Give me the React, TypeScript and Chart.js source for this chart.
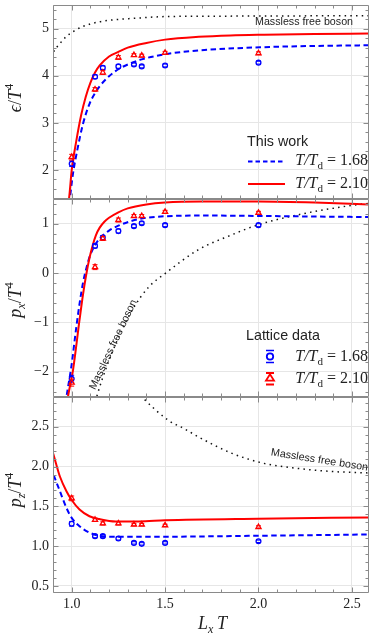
import React, { useEffect, useRef } from 'react';
import { Chart, registerables } from 'chart.js';

Chart.register(...registerables);

// ---------------- data ----------------
const LXT = [1.0, 1.125, 1.1667, 1.25, 1.3333, 1.375, 1.5, 2.0];

const EPS_168 = [2.13, 3.98, 4.17, 4.2, 4.24, 4.2, 4.22, 4.28];
const EPS_168_ERR = [0.06, 0.04, 0.04, 0.04, 0.03, 0.03, 0.03, 0.03];
const EPS_210 = [2.27, 3.71, 4.07, 4.39, 4.44, 4.43, 4.49, 4.48];
const EPS_210_ERR = [0.06, 0.04, 0.04, 0.04, 0.03, 0.03, 0.03, 0.03];

const PX_168 = [-2.14, 0.55, 0.72, 0.85, 0.95, 1.01, 0.97, 0.97];
const PX_168_ERR = [0.07, 0.04, 0.04, 0.04, 0.03, 0.03, 0.03, 0.03];
const PX_210 = [-2.22, 0.12, 0.7, 1.075, 1.156, 1.156, 1.24, 1.22];
const PX_210_ERR = [0.07, 0.05, 0.04, 0.04, 0.03, 0.03, 0.03, 0.03];

const PZ_168 = [1.28, 1.125, 1.125, 1.096, 1.04, 1.028, 1.04, 1.06];
const PZ_168_ERR = [0.03, 0.02, 0.02, 0.02, 0.015, 0.015, 0.015, 0.015];
const PZ_210 = [1.6, 1.33, 1.285, 1.285, 1.27, 1.27, 1.26, 1.24];
const PZ_210_ERR = [0.03, 0.02, 0.02, 0.02, 0.015, 0.015, 0.015, 0.015];

// model curves ("This work") and free boson limits
const EPS_RED_X = [0.975, 0.986, 1.0, 1.025, 1.05, 1.075, 1.1, 1.125, 1.15, 1.2, 1.25, 1.3, 1.4, 1.5, 1.68, 1.85, 2.03, 2.3, 2.59];
const EPS_RED_Y = [1.25, 1.4, 1.99, 2.62, 3.15, 3.55, 3.85, 4.07, 4.22, 4.41, 4.51, 4.6, 4.7, 4.77, 4.83, 4.86, 4.875, 4.89, 4.9];
const EPS_BLUE_X = [0.985, 0.99, 1.007, 1.033, 1.06, 1.095, 1.125, 1.15, 1.2, 1.254, 1.324, 1.375, 1.5, 1.68, 2.03, 2.3, 2.59];
const EPS_BLUE_Y = [1.28, 1.4, 1.92, 2.48, 2.97, 3.4, 3.63, 3.78, 3.99, 4.15, 4.28, 4.35, 4.46, 4.54, 4.61, 4.635, 4.65];
const EPS_FREE_X = [0.89, 0.9, 0.94, 0.972, 1.02, 1.06, 1.148, 1.25, 1.324, 1.5, 1.88, 2.59];
const EPS_FREE_Y = [4.4, 4.49, 4.7, 4.84, 4.97, 5.05, 5.15, 5.2, 5.22, 5.26, 5.27, 5.28];

const PX_RED_X = [0.975, 0.98, 1.007, 1.042, 1.06, 1.077, 1.095, 1.113, 1.13, 1.15, 1.175, 1.2, 1.25, 1.3, 1.4, 1.5, 1.7, 2.0, 2.3, 2.59];
const PX_RED_Y = [-2.65, -2.51, -1.97, -0.95, -0.45, -0.05, 0.3, 0.57, 0.77, 0.92, 1.04, 1.12, 1.23, 1.31, 1.39, 1.43, 1.45, 1.45, 1.43, 1.39];
const PX_BLUE_X = [0.967, 0.972, 0.998, 1.025, 1.045, 1.06, 1.08, 1.1, 1.125, 1.15, 1.2, 1.25, 1.324, 1.4, 1.5, 1.7, 2.03, 2.3, 2.59];
const PX_BLUE_Y = [-2.65, -2.51, -1.9, -1.09, -0.55, -0.21, 0.12, 0.37, 0.57, 0.7, 0.86, 0.96, 1.06, 1.12, 1.15, 1.165, 1.156, 1.145, 1.135];
const PX_FREE_X = [1.12, 1.139, 1.236, 1.324, 1.413, 1.5, 1.677, 1.854, 2.0, 2.2, 2.38, 2.54, 2.59];
const PX_FREE_Y = [-2.72, -2.44, -1.43, -0.75, -0.28, -0.01, 0.47, 0.77, 0.98, 1.17, 1.3, 1.39, 1.41];

const PZ_RED_X = [0.89, 0.9, 0.937, 0.972, 1.0, 1.042, 1.095, 1.148, 1.236, 1.36, 1.5, 2.0, 2.59];
const PZ_RED_Y = [2.24, 2.17, 1.875, 1.69, 1.58, 1.46, 1.375, 1.34, 1.31, 1.31, 1.325, 1.345, 1.36];
const PZ_BLUE_X = [0.89, 0.9, 0.937, 0.972, 1.0, 1.042, 1.095, 1.148, 1.236, 1.413, 2.0, 2.59];
const PZ_BLUE_Y = [2.0, 1.92, 1.69, 1.48, 1.355, 1.25, 1.17, 1.13, 1.117, 1.117, 1.13, 1.146];
const PZ_FREE_X = [1.35, 1.377, 1.519, 1.6, 1.677, 1.854, 2.03, 2.2, 2.38, 2.59];
const PZ_FREE_Y = [2.95, 2.875, 2.58, 2.48, 2.375, 2.17, 2.04, 1.98, 1.94, 1.92];

// axes
const X_MIN = 0.9;
const X_MAX = 2.59;
const X_MAJOR = [1.0, 1.5, 2.0, 2.5];
const X_LABELS = ['1.0', '1.5', '2.0', '2.5'];

const Y1_MAJOR = [2, 3, 4, 5];
const Y1_LABELS = ['2', '3', '4', '5'];
const Y2_MAJOR = [-2, -1, 0, 1];
const Y2_LABELS = ['\u22122', '\u22121', '0', '1'];
const Y3_MAJOR = [0.5, 1.0, 1.5, 2.0, 2.5];
const Y3_LABELS = ['0.5', '1.0', '1.5', '2.0', '2.5'];

const LEGEND_VALUES = ['1.68', '2.10'];

// ---------------- styles ----------------
const W = 374;
const H = 639;
const BLUE = 'rgb(0,0,255)';
const RED = 'rgb(255,0,0)';
const FRAME = '#8a8a8a';
const GRID = '#e6e6e6';
const TXT = '#222';
const SERIF = "'Liberation Serif', 'DejaVu Serif', serif";
const SANS = "'Liberation Sans', Arial, sans-serif";

type Run = { t: string; f: string; dy?: number };

function drawRuns(ctx: CanvasRenderingContext2D, runs: Run[], x: number, y: number, align: 'left' | 'center' | 'right', angle = 0) {
  ctx.save();
  let total = 0;
  const widths = runs.map((r) => {
    ctx.font = r.f;
    const w = ctx.measureText(r.t).width;
    total += w;
    return w;
  });
  ctx.translate(x, y);
  if (angle) ctx.rotate(angle);
  let cx = align === 'left' ? 0 : align === 'center' ? -total / 2 : -total;
  ctx.textBaseline = 'alphabetic';
  ctx.textAlign = 'left';
  ctx.fillStyle = TXT;
  runs.forEach((r, i) => {
    ctx.font = r.f;
    ctx.fillText(r.t, cx, r.dy || 0);
    cx += widths[i];
  });
  ctx.restore();
}

const zip = (xs: number[], ys: number[]) => xs.map((x, i) => ({ x, y: ys[i] }));

function tdRuns(val: string): Run[] {
  return [
    { t: 'T/T', f: `italic 16px ${SERIF}` },
    { t: 'd', f: `11px ${SERIF}`, dy: 3.5 },
    { t: ' = ' + val, f: `16px ${SERIF}` },
  ];
}

function markerCircle(ctx: CanvasRenderingContext2D, x: number, y: number, r: number, lw: number) {
  ctx.beginPath();
  ctx.arc(x, y, r, 0, Math.PI * 2);
  ctx.lineWidth = lw;
  ctx.stroke();
}
function markerTriangle(ctx: CanvasRenderingContext2D, x: number, y: number, r: number, lw: number) {
  const h = r * 1.5;
  ctx.beginPath();
  ctx.moveTo(x, y - r);
  ctx.lineTo(x + r * 0.95, y - r + h);
  ctx.lineTo(x - r * 0.95, y - r + h);
  ctx.closePath();
  ctx.lineWidth = lw;
  ctx.stroke();
}

type PanelSpec = {
  top: number;
  bottom: number;
  yMin: number;
  yMax: number;
  yMajor: number[];
  yLabels: string[];
  yMinor: number;
  showX: boolean;
  title: Run[];
  titleY: number;
  blue: number[];
  blueErr: number[];
  red: number[];
  redErr: number[];
  redLine: { x: number; y: number }[];
  blueLine: { x: number; y: number }[];
  freeLine: { x: number; y: number }[];
  extra: (ctx: CanvasRenderingContext2D) => void;
};

const TITLE_F = `italic 18px ${SERIF}`;
const SUP_F = `12px ${SERIF}`;
const SUB_F = `italic 12px ${SERIF}`;

const PANELS: PanelSpec[] = [
  {
    top: 2,
    bottom: 199,
    yMin: 1.38,
    yMax: 5.5,
    yMajor: Y1_MAJOR,
    yLabels: Y1_LABELS,
    yMinor: 0.2,
    showX: false,
    title: [
      { t: '\u03f5', f: TITLE_F },
      { t: '/', f: `18px ${SERIF}` },
      { t: 'T', f: TITLE_F },
      { t: '4', f: SUP_F, dy: -8 },
    ],
    titleY: 98,
    blue: EPS_168,
    blueErr: EPS_168_ERR,
    red: EPS_210,
    redErr: EPS_210_ERR,
    redLine: zip(EPS_RED_X, EPS_RED_Y),
    blueLine: zip(EPS_BLUE_X, EPS_BLUE_Y),
    freeLine: zip(EPS_FREE_X, EPS_FREE_Y),
    extra: (ctx) => {
      drawRuns(ctx, [{ t: 'Massless free boson', f: `10.7px ${SANS}` }], 255, 24.5, 'left');
      drawRuns(ctx, [{ t: 'This work', f: `14.3px ${SANS}` }], 247, 146, 'left');
      ctx.save();
      ctx.strokeStyle = BLUE;
      ctx.lineWidth = 2;
      ctx.setLineDash([4.5, 3]);
      ctx.beginPath();
      ctx.moveTo(248, 161.5);
      ctx.lineTo(285, 161.5);
      ctx.stroke();
      ctx.setLineDash([]);
      ctx.strokeStyle = RED;
      ctx.beginPath();
      ctx.moveTo(248, 184);
      ctx.lineTo(285, 184);
      ctx.stroke();
      ctx.restore();
      drawRuns(ctx, tdRuns(LEGEND_VALUES[0]), 368, 165, 'right');
      drawRuns(ctx, tdRuns(LEGEND_VALUES[1]), 368, 188, 'right');
    },
  },
  {
    top: 199,
    bottom: 397,
    yMin: -2.51,
    yMax: 1.5,
    yMajor: Y2_MAJOR,
    yLabels: Y2_LABELS,
    yMinor: 0.2,
    showX: false,
    title: [
      { t: 'p', f: TITLE_F },
      { t: 'x', f: SUB_F, dy: 4 },
      { t: '/', f: `18px ${SERIF}` },
      { t: 'T', f: TITLE_F },
      { t: '4', f: SUP_F, dy: -8 },
    ],
    titleY: 300,
    blue: PX_168,
    blueErr: PX_168_ERR,
    red: PX_210,
    redErr: PX_210_ERR,
    redLine: zip(PX_RED_X, PX_RED_Y),
    blueLine: zip(PX_BLUE_X, PX_BLUE_Y),
    freeLine: zip(PX_FREE_X, PX_FREE_Y),
    extra: (ctx) => {
      drawRuns(ctx, [{ t: 'Massless free boson', f: `10.7px ${SANS}` }], 116, 346, 'center', (-64.7 * Math.PI) / 180);
      drawRuns(ctx, [{ t: 'Lattice data', f: `14.3px ${SANS}` }], 246, 339.5, 'left');
      ctx.save();
      ctx.strokeStyle = BLUE;
      markerCircle(ctx, 270, 356.5, 3.2, 1.8);
      ctx.lineWidth = 1.6;
      ctx.beginPath();
      ctx.moveTo(266, 350.5); ctx.lineTo(274, 350.5);
      ctx.moveTo(266, 362.5); ctx.lineTo(274, 362.5);
      ctx.stroke();
      ctx.strokeStyle = RED;
      markerTriangle(ctx, 270, 378.5, 4.2, 1.8);
      ctx.beginPath();
      ctx.moveTo(266, 373); ctx.lineTo(274, 373);
      ctx.moveTo(266, 384.5); ctx.lineTo(274, 384.5);
      ctx.moveTo(270, 372.5); ctx.lineTo(270, 374.5);
      ctx.stroke();
      ctx.restore();
      drawRuns(ctx, tdRuns(LEGEND_VALUES[0]), 368, 361, 'right');
      drawRuns(ctx, tdRuns(LEGEND_VALUES[1]), 368, 383, 'right');
    },
  },
  {
    top: 397,
    bottom: 593,
    yMin: 0.41,
    yMax: 2.875,
    yMajor: Y3_MAJOR,
    yLabels: Y3_LABELS,
    yMinor: 0.1,
    showX: true,
    title: [
      { t: 'p', f: TITLE_F },
      { t: 'z', f: SUB_F, dy: 4 },
      { t: '/', f: `18px ${SERIF}` },
      { t: 'T', f: TITLE_F },
      { t: '4', f: SUP_F, dy: -8 },
    ],
    titleY: 490,
    blue: PZ_168,
    blueErr: PZ_168_ERR,
    red: PZ_210,
    redErr: PZ_210_ERR,
    redLine: zip(PZ_RED_X, PZ_RED_Y),
    blueLine: zip(PZ_BLUE_X, PZ_BLUE_Y),
    freeLine: zip(PZ_FREE_X, PZ_FREE_Y),
    extra: (ctx) => {
      drawRuns(ctx, [{ t: 'Massless free boson', f: `10.7px ${SANS}` }], 319, 463, 'center', (9 * Math.PI) / 180);
      drawRuns(
        ctx,
        [
          { t: 'L', f: TITLE_F },
          { t: 'x', f: SUB_F, dy: 4 },
          { t: '\u2009T', f: TITLE_F },
        ],
        212.5,
        629,
        'center'
      );
    },
  },
];

function makePlugin(p: PanelSpec) {
  return {
    id: 'panelDecor',
    afterDatasetDraw(chart: any, args: any) {
      const ds = chart.data.datasets[args.index];
      if (!ds.errors) return;
      const ctx: CanvasRenderingContext2D = chart.ctx;
      const ys = chart.scales.y;
      const ca = chart.chartArea;
      ctx.save();
      ctx.beginPath();
      ctx.rect(ca.left, ca.top, ca.right - ca.left, ca.bottom - ca.top);
      ctx.clip();
      ctx.strokeStyle = ds.borderColor;
      ctx.lineWidth = 1;
      args.meta.data.forEach((el: any, i: number) => {
        const v = ds.data[i].y;
        const e = ds.errors[i];
        const y1 = ys.getPixelForValue(v + e);
        const y2 = ys.getPixelForValue(v - e);
        const r = ds.pointRadius;
        ctx.beginPath();
        if (y1 < el.y - r) {
          ctx.moveTo(el.x, y1);
          ctx.lineTo(el.x, el.y - r);
        }
        if (y2 > el.y + r) {
          ctx.moveTo(el.x, el.y + r);
          ctx.lineTo(el.x, y2);
        }
        ctx.moveTo(el.x - 2.5, y1);
        ctx.lineTo(el.x + 2.5, y1);
        ctx.moveTo(el.x - 2.5, y2);
        ctx.lineTo(el.x + 2.5, y2);
        ctx.stroke();
      });
      ctx.restore();
    },
    afterDraw(chart: any) {
      const ctx: CanvasRenderingContext2D = chart.ctx;
      const ca = chart.chartArea;
      const xs = chart.scales.x;
      const ys = chart.scales.y;
      ctx.save();
      ctx.strokeStyle = FRAME;
      ctx.lineWidth = 1;
      const L = Math.round(ca.left) + 0.5;
      const R = Math.round(ca.right) - 0.5;
      const T = Math.round(ca.top) + 0.5;
      const B = Math.round(ca.bottom) - 0.5;
      ctx.beginPath();
      ctx.rect(L, T, R - L, B - T);
      ctx.stroke();
      // x frame ticks
      ctx.beginPath();
      for (let k = Math.ceil(X_MIN * 10 - 1e-6); k <= Math.floor(X_MAX * 10 + 1e-6); k++) {
        const px = Math.round(xs.getPixelForValue(k / 10)) + 0.5;
        const len = k % 5 === 0 ? 5 : 3;
        ctx.moveTo(px, T);
        ctx.lineTo(px, T + len);
        ctx.moveTo(px, B);
        ctx.lineTo(px, B - len);
      }
      // y frame ticks
      const s = p.yMinor;
      for (let k = Math.ceil(p.yMin / s - 1e-6); k <= Math.floor(p.yMax / s + 1e-6); k++) {
        const v = k * s;
        const py = Math.round(ys.getPixelForValue(v)) + 0.5;
        const major = p.yMajor.some((m) => Math.abs(m - v) < 1e-6);
        const len = major ? 5 : 3;
        ctx.moveTo(L, py);
        ctx.lineTo(L + len, py);
        ctx.moveTo(R, py);
        ctx.lineTo(R - len, py);
      }
      ctx.stroke();
      ctx.restore();
      drawRuns(ctx, p.title, 21, p.titleY, 'center', -Math.PI / 2);
      p.extra(ctx);
    },
  };
}

function buildConfig(p: PanelSpec): any {
  const xs = LXT;
  return {
    type: 'line',
    data: {
      datasets: [
        {
          label: 'red pts',
          data: zip(xs, p.red),
          errors: p.redErr,
          showLine: false,
          pointStyle: 'triangle',
          pointRadius: 3,
          pointBorderWidth: 1.3,
          borderColor: RED,
          pointBorderColor: RED,
          pointBackgroundColor: 'rgba(0,0,0,0)',
          clip: 0,
        },
        {
          label: 'blue pts',
          data: zip(xs, p.blue),
          errors: p.blueErr,
          showLine: false,
          pointStyle: 'circle',
          pointRadius: 2.4,
          pointBorderWidth: 1.3,
          borderColor: BLUE,
          pointBorderColor: BLUE,
          pointBackgroundColor: 'rgba(0,0,0,0)',
          clip: 0,
        },
        {
          label: 'red line',
          data: p.redLine,
          borderColor: RED,
          borderWidth: 2,
          pointRadius: 0,
          cubicInterpolationMode: 'monotone',
          clip: 0,
        },
        {
          label: 'blue line',
          data: p.blueLine,
          borderColor: BLUE,
          borderWidth: 2,
          borderDash: [5.5, 3.5],
          pointRadius: 0,
          cubicInterpolationMode: 'monotone',
          clip: 0,
        },
        {
          label: 'free',
          data: p.freeLine,
          borderColor: '#111',
          borderWidth: 1.5,
          borderDash: [1.5, 4.2],
          pointRadius: 0,
          cubicInterpolationMode: 'monotone',
          clip: 0,
        },
      ],
    },
    options: {
      animation: false,
      responsive: false,
      devicePixelRatio: 1,
      events: [],
      layout: {
        padding: { left: 0, right: 2, top: p.top, bottom: p.showX ? 0 : H - p.bottom },
      },
      plugins: { legend: { display: false }, tooltip: { enabled: false } },
      scales: {
        x: {
          type: 'linear',
          min: X_MIN,
          max: X_MAX,
          afterBuildTicks: (s: any) => {
            s.ticks = X_MAJOR.map((v) => ({ value: v }));
          },
          afterFit: (s: any) => {
            s.height = p.showX ? H - p.bottom : 0;
            s.paddingLeft = 0;
            s.paddingRight = 0;
          },
          ticks: {
            display: p.showX,
            padding: 3,
            maxRotation: 0,
            autoSkip: false,
            color: TXT,
            font: { family: SERIF, size: 14 },
            callback: (_v: any, i: number) => X_LABELS[i],
          },
          grid: { color: GRID, drawTicks: false, lineWidth: 1 },
          border: { display: false },
        },
        y: {
          type: 'linear',
          min: p.yMin,
          max: p.yMax,
          afterBuildTicks: (s: any) => {
            s.ticks = p.yMajor.map((v) => ({ value: v }));
          },
          afterFit: (s: any) => {
            s.width = 53;
            s.paddingTop = 0;
            s.paddingBottom = 0;
          },
          ticks: {
            padding: 4,
            autoSkip: false,
            color: TXT,
            font: { family: SERIF, size: 14 },
            callback: (_v: any, i: number) => p.yLabels[i],
          },
          grid: { color: GRID, drawTicks: false, lineWidth: 1 },
          border: { display: false },
        },
      },
    },
    plugins: [makePlugin(p)],
  };
}

function PanelCanvas({ spec }: { spec: PanelSpec }) {
  const ref = useRef<HTMLCanvasElement | null>(null);
  useEffect(() => {
    if (!ref.current) return;
    const chart = new Chart(ref.current, buildConfig(spec));
    return () => chart.destroy();
  }, [spec]);
  return <canvas ref={ref} width={W} height={H} style={{ position: 'absolute', left: 0, top: 0, width: W, height: H }} />;
}

export default function App() {
  return (
    <div style={{ position: 'absolute', left: 0, top: 0, width: W, height: H, background: '#fff', overflow: 'hidden' }}>
      {PANELS.map((p, i) => (
        <PanelCanvas key={i} spec={p} />
      ))}
    </div>
  );
}
